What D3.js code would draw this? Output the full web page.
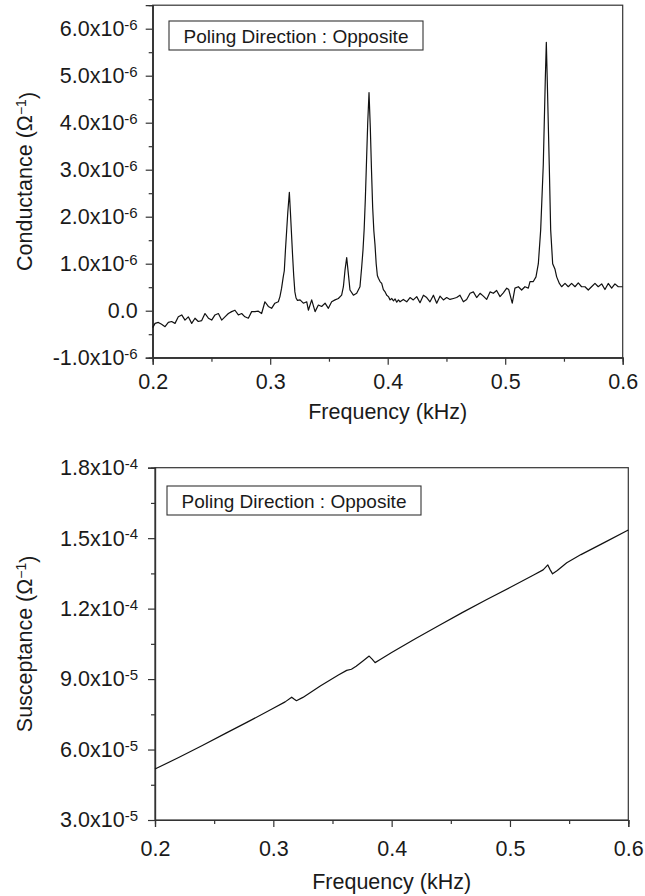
<!DOCTYPE html>
<html>
<head>
<meta charset="utf-8">
<script src="https://cdn.jsdelivr.net/npm/d3@7"></script>
<style>
  body { margin: 0; background: #fff; }
  text { font-family: "Liberation Sans", Arial, Helvetica, sans-serif; fill: #1a1a1a; }
</style>
</head>
<body>
<div id="chart"></div>
<script>
// ---- data ----
// frequency in kHz
const freqTicks = [0.2, 0.3, 0.4, 0.5, 0.6];
const freqTickLabels = ["0.2", "0.3", "0.4", "0.5", "0.6"];
const freqMinor = [0.25, 0.35, 0.45, 0.55];

// conductance, in units of 1e-6 (1/ohm)
const condTicks = [-1, 0, 1, 2, 3, 4, 5, 6];
const condTickMant = ["-1.0", "0.0", "1.0", "2.0", "3.0", "4.0", "5.0", "6.0"];
const condTickExp = ["-6", "", "-6", "-6", "-6", "-6", "-6", "-6"];
const condMinor = [-0.5, 0.5, 1.5, 2.5, 3.5, 4.5, 5.5];

// [frequency kHz, conductance x1e-6]
const conductance = [
  [0.2000,-0.36],[0.2020,-0.27],[0.2048,-0.25],[0.2076,-0.29],[0.2105,-0.34],[0.2133,-0.25],
  [0.2161,-0.23],[0.2190,-0.27],[0.2218,-0.13],[0.2247,-0.09],[0.2275,-0.20],[0.2303,-0.13],
  [0.2332,-0.27],[0.2360,-0.16],[0.2388,-0.23],[0.2417,-0.21],[0.2445,-0.06],[0.2474,-0.16],
  [0.2502,-0.20],[0.2530,-0.09],[0.2559,-0.06],[0.2587,-0.20],[0.2615,-0.13],[0.2644,-0.06],
  [0.2672,-0.02],[0.2700,0.01],[0.2729,-0.09],[0.2757,-0.06],[0.2785,-0.13],[0.2814,-0.16],
  [0.2842,-0.02],[0.2870,-0.02],[0.2899,-0.01],[0.2927,-0.06],[0.2955,0.19],[0.2984,0.09],
  [0.3012,0.05],[0.3040,0.16],[0.3069,0.19],[0.3083,0.30],[0.3097,0.48],[0.3111,0.72],
  // first resonance
  [0.3120,0.85],[0.3130,1.30],[0.3140,1.70],[0.3150,2.10],[0.3163,2.52],[0.3172,2.10],
  [0.3180,1.70],[0.3190,1.20],[0.3200,0.75],[0.3210,0.40],[0.3220,0.27],[0.3232,0.22],
  [0.3254,0.23],[0.3282,0.16],[0.3311,0.19],[0.3325,0.01],[0.3353,0.23],[0.3382,-0.02],
  [0.3410,0.12],[0.3438,0.09],[0.3467,0.16],[0.3495,0.05],[0.3523,0.19],[0.3552,0.23],
  [0.3580,0.26],[0.3608,0.33],[0.3623,0.51],[0.3637,0.87],[0.3651,1.13],[0.3665,0.79],
  [0.3679,0.44],[0.3708,0.33],[0.3736,0.37],[0.3764,0.51],[0.3779,0.94],
  // second resonance
  [0.3790,1.30],[0.3800,1.75],[0.3810,2.40],[0.3820,3.20],[0.3830,4.00],[0.3841,4.64],
  [0.3852,3.90],[0.3862,3.00],[0.3872,2.20],[0.3882,1.70],[0.3892,1.40],[0.3902,1.00],
  [0.3912,0.75],[0.3921,0.69],[0.3935,0.62],[0.3949,0.58],[0.3963,0.45],[0.3978,0.40],
  [0.3992,0.33],[0.4006,0.30],[0.4020,0.23],[0.4035,0.26],[0.4049,0.21],[0.4063,0.25],
  [0.4077,0.18],[0.4091,0.23],[0.4105,0.19],[0.4133,0.24],[0.4162,0.19],[0.4190,0.28],
  [0.4218,0.23],[0.4247,0.30],[0.4275,0.17],[0.4304,0.33],[0.4332,0.28],[0.4360,0.19],
  [0.4389,0.33],[0.4417,0.16],[0.4445,0.31],[0.4474,0.23],[0.4502,0.28],[0.4530,0.24],
  [0.4559,0.26],[0.4587,0.28],[0.4615,0.33],[0.4644,0.19],[0.4672,0.24],[0.4701,0.37],
  [0.4729,0.40],[0.4757,0.28],[0.4786,0.37],[0.4814,0.31],[0.4842,0.24],[0.4871,0.40],
  [0.4899,0.37],[0.4927,0.43],[0.4956,0.30],[0.4984,0.38],[0.5013,0.48],[0.5030,0.45],
  [0.5060,0.16],[0.5083,0.48],[0.5112,0.51],[0.5140,0.44],[0.5168,0.51],[0.5197,0.48],
  [0.5211,0.62],[0.5239,0.62],[0.5262,0.72],[0.5282,1.00],
  // third resonance
  [0.5302,1.72],[0.5324,3.10],[0.5341,4.90],[0.5350,5.71],[0.5358,4.90],[0.5375,3.10],
  [0.5387,1.72],[0.5404,1.00],[0.5424,0.88],[0.5438,0.72],[0.5461,0.58],[0.5480,0.51],
  [0.5509,0.58],[0.5537,0.51],[0.5565,0.58],[0.5594,0.51],[0.5622,0.59],[0.5650,0.51],
  [0.5679,0.51],[0.5707,0.44],[0.5735,0.51],[0.5764,0.58],[0.5792,0.51],[0.5821,0.57],
  [0.5849,0.45],[0.5877,0.58],[0.5906,0.48],[0.5934,0.57],[0.5962,0.51],[0.5991,0.51],
  [0.6000,0.51]
];

// susceptance, in units of 1e-5 (1/ohm)
const susTicks = [3, 6, 9, 12, 15, 18];
const susTickMant = ["3.0", "6.0", "9.0", "1.2", "1.5", "1.8"];
const susTickExp = ["-5", "-5", "-5", "-4", "-4", "-4"];
const susMinor = [4.5, 7.5, 10.5, 13.5, 16.5];

// [frequency kHz, susceptance x1e-5]
const susceptance = [
  [0.200,5.17],[0.220,5.66],[0.240,6.17],[0.260,6.70],[0.280,7.22],[0.300,7.76],
  [0.310,8.03],[0.3155,8.23],[0.3175,8.15],[0.3195,8.08],[0.325,8.22],[0.340,8.72],
  [0.355,9.17],[0.362,9.37],[0.366,9.42],[0.370,9.55],[0.376,9.78],[0.381,9.98],
  [0.3835,9.85],[0.386,9.70],[0.390,9.82],[0.400,10.13],[0.420,10.72],[0.440,11.28],
  [0.460,11.84],[0.480,12.38],[0.500,12.90],[0.520,13.43],[0.528,13.65],[0.532,13.86],
  [0.534,13.65],[0.536,13.48],[0.540,13.62],[0.548,13.95],[0.560,14.30],[0.580,14.82],
  [0.600,15.35]
];

const legendText = "Poling Direction : Opposite";

// ---- drawing ----
const W = 645, H = 896;
const FS = 21.5;
const svg = d3.select("#chart").append("svg")
    .attr("width", W).attr("height", H)
    .attr("viewBox", `0 0 ${W} ${H}`);

function panel(opt) {
    const x = d3.scaleLinear().domain([0.2, 0.6]).range([opt.left, opt.right]);
    const y = d3.scaleLinear().domain(opt.ydom).range([opt.bottom, opt.top]);
    const g = svg.append("g");

    // frame
    g.append("rect")
        .attr("x", opt.left).attr("y", opt.top)
        .attr("width", opt.right - opt.left).attr("height", opt.bottom - opt.top)
        .attr("fill", "none").attr("stroke", "#333").attr("stroke-width", 1.2);

    // x axis
    const xa = g.append("g").attr("transform", `translate(0,${opt.bottom})`)
        .call(d3.axisBottom(x).tickValues(freqTicks).tickSize(7).tickPadding(opt.xpad)
            .tickFormat((d, i) => freqTickLabels[i]));
    g.append("g").attr("transform", `translate(0,${opt.bottom})`)
        .call(d3.axisBottom(x).tickValues(freqMinor).tickSize(4).tickFormat(""));

    // y axis
    const ya = g.append("g").attr("transform", `translate(${opt.left},0)`)
        .call(d3.axisLeft(y).tickValues(opt.ticks).tickSize(7).tickPadding(opt.ypad)
            .tickFormat(""));
    g.append("g").attr("transform", `translate(${opt.left},0)`)
        .call(d3.axisLeft(y).tickValues(opt.minor).tickSize(4).tickFormat(""));

    g.selectAll(".domain").attr("stroke", "#333").attr("stroke-width", 1.2);
    g.selectAll(".tick line").attr("stroke", "#333").attr("stroke-width", 1.2);
    xa.selectAll("text").style("font-size", FS + "px").attr("fill", "#1a1a1a")
        .attr("font-family", null);

    ya.selectAll(".tick text").each(function(d, i) {
        const t = d3.select(this).attr("fill", "#1a1a1a").attr("font-family", null)
            .style("font-size", FS + "px");
        t.append("tspan").text(opt.mant[i] + (opt.exp[i] ? "x10" : ""));
        if (opt.exp[i]) {
            t.append("tspan").attr("dy", "-0.42em").style("font-size", "15px").text(opt.exp[i]);
        }
    });

    // curve
    const line = d3.line().x(d => x(d[0])).y(d => y(d[1]));
    g.append("path").datum(opt.data)
        .attr("d", line)
        .attr("fill", "none").attr("stroke", "#111").attr("stroke-width", 1.2)
        .attr("stroke-linejoin", "round");

    // legend box
    const lg = g.append("g");
    lg.append("rect")
        .attr("x", opt.lx).attr("y", opt.ly).attr("width", 254).attr("height", 29)
        .attr("fill", "#fff").attr("stroke", "#333").attr("stroke-width", 1.1);
    lg.append("text")
        .attr("x", opt.lx + 127).attr("y", opt.ly + 21.5)
        .attr("text-anchor", "middle").style("font-size", "19px")
        .text(legendText);

    // axis titles
    g.append("text")
        .attr("x", (opt.left + opt.right) / 2).attr("y", opt.xtitleY)
        .attr("text-anchor", "middle").style("font-size", FS + "px")
        .text("Frequency (kHz)");

    const yt = g.append("text")
        .attr("transform", `translate(${opt.ytitleX},${(opt.top + opt.bottom) / 2}) rotate(-90)`)
        .attr("text-anchor", "middle").style("font-size", FS + "px");
    yt.append("tspan").text(opt.ytitle + " (\u03A9");
    yt.append("tspan").attr("dy", "-0.45em").style("font-size", "14px").text("\u22121");
    yt.append("tspan").attr("dy", "0.45em").text(")");
}

panel({
    left: 152.7, right: 622.7, top: 5.2, bottom: 357.7,
    ydom: [-1, 6.5], ticks: condTicks, minor: condMinor,
    mant: condTickMant, exp: condTickExp, data: conductance,
    xpad: 9, ypad: 8,
    lx: 169, ly: 21, xtitleY: 419,
    ytitle: "Conductance", ytitleX: 32
});

panel({
    left: 155, right: 628.3, top: 467.7, bottom: 820,
    ydom: [3, 18], ticks: susTicks, minor: susMinor,
    mant: susTickMant, exp: susTickExp, data: susceptance,
    xpad: 14, ypad: 10,
    lx: 167, ly: 486, xtitleY: 889,
    ytitle: "Susceptance", ytitleX: 32
});
</script>
</body>
</html>
